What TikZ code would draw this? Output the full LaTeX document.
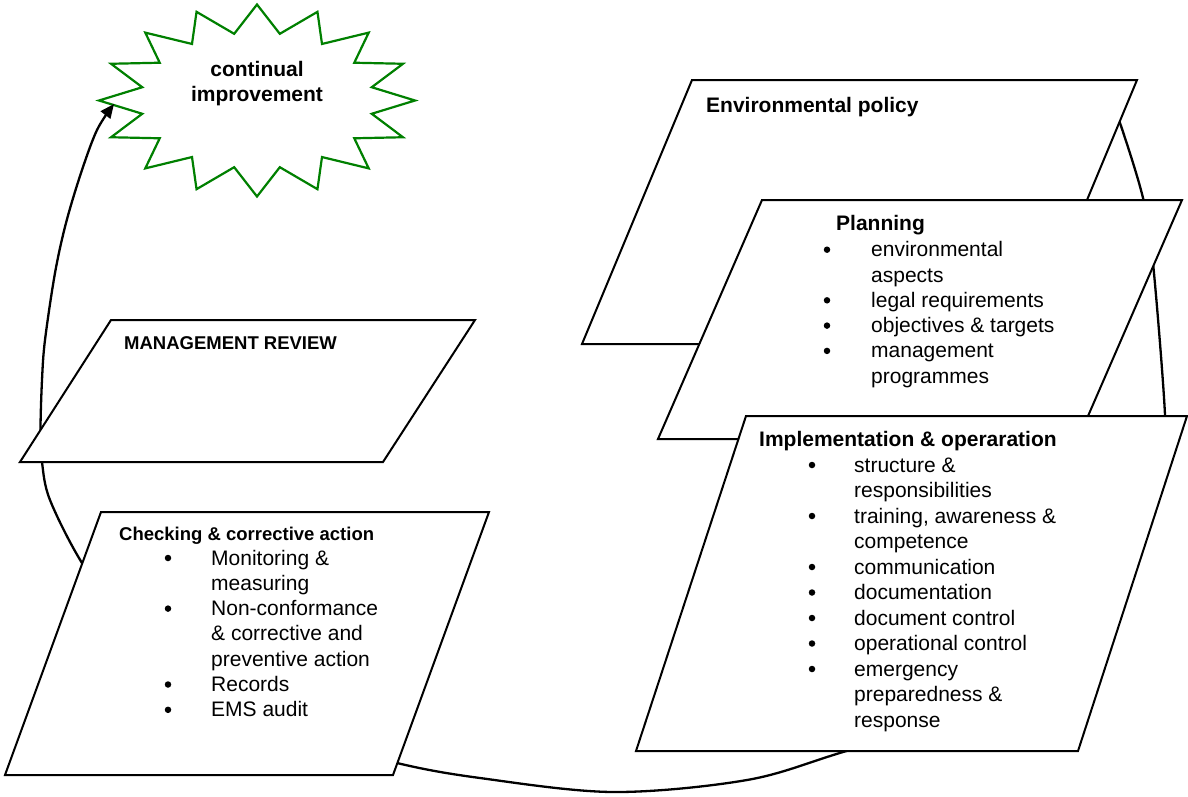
\documentclass[tikz,border=0pt]{standalone}
\usepackage{fontspec}
\setmainfont{Liberation Sans}
\usetikzlibrary{arrows.meta}
\definecolor{stargreen}{RGB}{0,128,0}
\begin{document}
\begin{tikzpicture}[x=1pt,y=-1pt,
  box/.style={draw=black, fill=white, line width=2pt, line join=miter},
  cyc/.style={line width=2.3pt},
  txt/.style={inner sep=0pt, anchor=base west, font=\fontsize{21}{25}\selectfont},
  hdr/.style={inner sep=0pt, anchor=base west, font=\fontsize{21}{25}\selectfont\bfseries},
  shdr/.style={inner sep=0pt, anchor=base west, font=\fontsize{18.5}{22}\selectfont\bfseries},
  bul/.style={circle, fill=black, inner sep=0pt, minimum size=6.5pt},
  starline/.style={draw=stargreen, line width=2.2pt, fill=white, line join=miter}]
\useasboundingbox (0,0) rectangle (1188,796);

% continual improvement star
\begin{scope}[shift={(257,100.5)}]
\draw[starline] (0,96)
  \foreach \i [evaluate=\i as \r using {mod(\i,2)==0 ? 158 : 117},
               evaluate=\i as \s using {mod(\i,2)==0 ? 96 : 68}] in {1,...,31}
  { -- ({\r*cos(90+11.25*\i)},{\s*sin(90+11.25*\i)}) } -- cycle;
\end{scope}
\node[hdr, anchor=base] (ci-1) at (257,76) {continual};
\node[hdr, anchor=base] (ci-2) at (257,101) {improvement};

% cycle connector
\coordinate (cyc-start) at (1108,95);
\coordinate (ci-tip) at (114,104);
\draw[cyc, -{Triangle[length=14pt,width=12pt]}] plot[smooth, tension=0.55] coordinates {
  (cyc-start) (1119,120) (1143,198) (1153,263) (1165,415) (1162,460) (1143,520)
  (1118,590) (1065,655) (975,712) (843,752) (747,780) (613,792) (480,778)
  (397,763) (300,735) (200,690) (130,630) (82,563) (50,500) (42,462) (40.5,430)
  (42,380) (45,340) (55,273) (66,223) (81,173) (97,130) (ci-tip)};

% boxes
\draw[box] (692,80) -- (1137,80) -- (1027,344) -- (582,344) -- cycle;
\draw[box] (762,200) -- (1182,200) -- (1078,439) -- (658,439) -- cycle;
\draw[box] (746,416) -- (1187,416) -- (1078,751) -- (636,751) -- cycle;
\draw[box] (111,320) -- (475,320) -- (383,462) -- (20,462) -- cycle;
\draw[box] (101,512) -- (489,512) -- (393,775) -- (5,775) -- cycle;

% texts
\node[hdr] (pol-t) at (706,112) {Environmental policy};

\node[hdr] (pln-h) at (836,230) {Planning};
\foreach \t/\b [count=\i from 0] in {environmental/1, aspects/0, {legal requirements}/1,
    {objectives \& targets}/1, management/1, programmes/0} {
  \node[txt] (pln-\i) at (871,{256.7+25.3*\i}) {\t};
  \ifnum\b=1 \node[bul] (plnb-\i) at (827,{249.7+25.3*\i}) {};\fi
}

\node[hdr] (imp-h) at (759,446) {Implementation \& operaration};
\foreach \t/\b [count=\i from 0] in {{structure \&}/1, responsibilities/0,
    {training, awareness \&}/1, competence/0, communication/1, documentation/1,
    {document control}/1, {operational control}/1, emergency/1, {preparedness \&}/0, response/0} {
  \node[txt] (imp-\i) at (854,{472+25.5*\i}) {\t};
  \ifnum\b=1 \node[bul] (impb-\i) at (812,{465+25.5*\i}) {};\fi
}

\node[shdr] (mr-t) at (124,349) {MANAGEMENT REVIEW};

\node[shdr] (chk-h) at (119,540) {Checking \& corrective action};
\foreach \t/\b [count=\i from 0] in {{Monitoring \&}/1, measuring/0, Non-conformance/1,
    {\& corrective and}/0, {preventive action}/0, Records/1, {EMS audit}/1} {
  \node[txt] (chk-\i) at (211,{565+25.3*\i}) {\t};
  \ifnum\b=1 \node[bul] (chkb-\i) at (168,{558+25.3*\i}) {};\fi
}
\end{tikzpicture}
\end{document}
